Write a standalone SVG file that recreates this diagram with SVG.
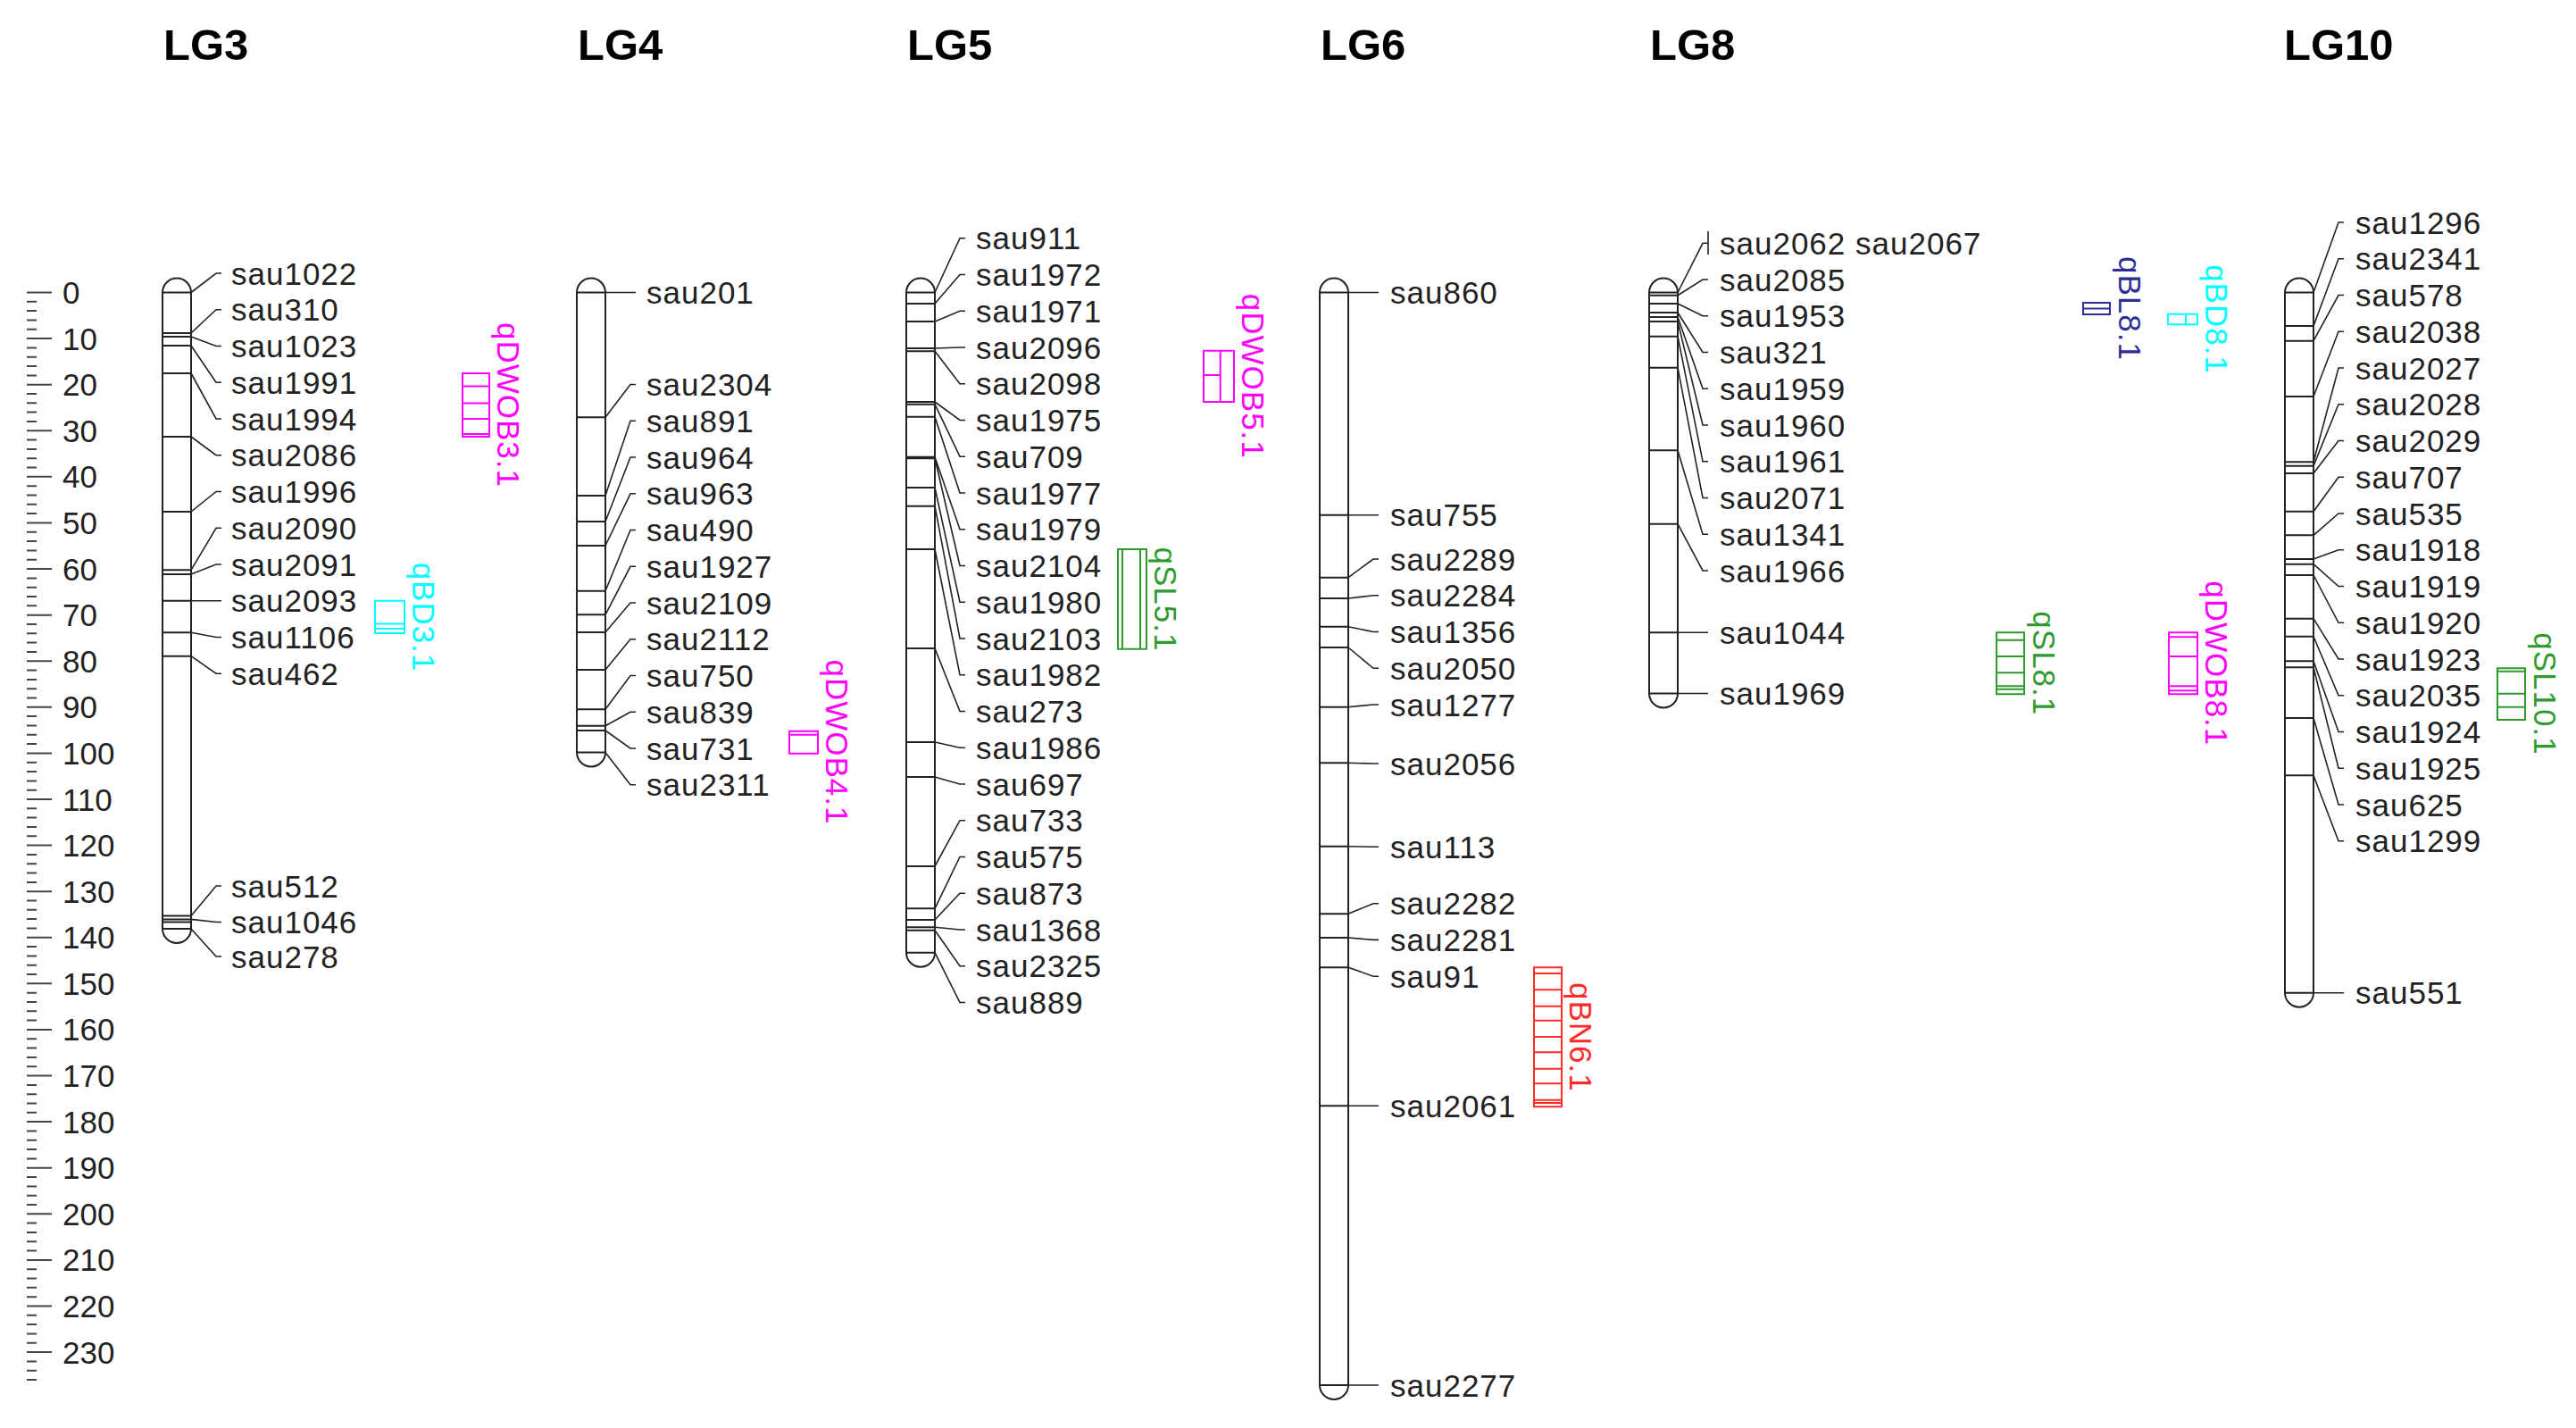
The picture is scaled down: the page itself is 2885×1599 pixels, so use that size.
<svg xmlns="http://www.w3.org/2000/svg" width="2885" height="1599" viewBox="0 0 2885 1599">
<style>
.bg{fill:#fff}
.chr{fill:none;stroke:#222;stroke-width:2}
.mk{fill:none;stroke:#222;stroke-width:2}
.cn{fill:none;stroke:#222;stroke-width:1.6}
.lb{font-family:"Liberation Sans",Arial,sans-serif;font-size:35px;letter-spacing:1px;fill:#222}
.tt{font-family:"Liberation Sans",Arial,sans-serif;font-size:49px;font-weight:bold;fill:#000}
.tk{fill:none;stroke:#444;stroke-width:2}
.rl{font-family:"Liberation Sans",Arial,sans-serif;font-size:35px;fill:#222}
.qm{fill:none;stroke:#FF00FF;stroke-width:2}.tm{fill:#FF00FF}
.qc{fill:none;stroke:#00FFFF;stroke-width:2}.tc{fill:#00FFFF}
.qg{fill:none;stroke:#2F9B2F;stroke-width:2}.tg{fill:#2F9B2F}
.qr{fill:none;stroke:#FF2A2A;stroke-width:2}.tr{fill:#FF2A2A}
.qb{fill:none;stroke:#2E2E96;stroke-width:2}.tb{fill:#2E2E96}
.ql{font-family:"Liberation Sans",Arial,sans-serif;font-size:35px;letter-spacing:1px;text-anchor:middle}
</style>
<rect class="bg" x="0" y="0" width="2885" height="1599"/>

<g id="ruler">
<path class="tk" d="M30 337.8H41M30 348.1H41M30 358.5H41M30 368.8H41M30 389.4H41M30 399.7H41M30 410H41M30 420.4H41M30 441H41M30 451.3H41M30 461.6H41M30 472H41M30 492.6H41M30 502.9H41M30 513.2H41M30 523.5H41M30 544.2H41M30 554.5H41M30 564.8H41M30 575.1H41M30 595.8H41M30 606.1H41M30 616.4H41M30 626.7H41M30 647.4H41M30 657.7H41M30 668H41M30 678.3H41M30 699H41M30 709.3H41M30 719.6H41M30 729.9H41M30 750.5H41M30 760.9H41M30 771.2H41M30 781.5H41M30 802.1H41M30 812.5H41M30 822.8H41M30 833.1H41M30 853.7H41M30 864H41M30 874.4H41M30 884.7H41M30 905.3H41M30 915.6H41M30 925.9H41M30 936.3H41M30 956.9H41M30 967.2H41M30 977.5H41M30 987.9H41M30 1008.5H41M30 1018.8H41M30 1029.1H41M30 1039.4H41M30 1060.1H41M30 1070.4H41M30 1080.7H41M30 1091H41M30 1111.7H41M30 1122H41M30 1132.3H41M30 1142.6H41M30 1163.3H41M30 1173.6H41M30 1183.9H41M30 1194.2H41M30 1214.9H41M30 1225.2H41M30 1235.5H41M30 1245.8H41M30 1266.4H41M30 1276.8H41M30 1287.1H41M30 1297.4H41M30 1318H41M30 1328.4H41M30 1338.7H41M30 1349H41M30 1369.6H41M30 1379.9H41M30 1390.3H41M30 1400.6H41M30 1421.2H41M30 1431.5H41M30 1441.8H41M30 1452.2H41M30 1472.8H41M30 1483.1H41M30 1493.4H41M30 1503.8H41M30 1524.4H41M30 1534.7H41M30 1545H41"/>
<path class="tk" d="M30 327.5H58M30 379.09H58M30 430.68H58M30 482.27H58M30 533.86H58M30 585.45H58M30 637.04H58M30 688.63H58M30 740.22H58M30 791.81H58M30 843.4H58M30 894.99H58M30 946.58H58M30 998.17H58M30 1049.76H58M30 1101.35H58M30 1152.94H58M30 1204.53H58M30 1256.12H58M30 1307.71H58M30 1359.3H58M30 1410.89H58M30 1462.48H58M30 1514.07H58"/>
<g class="rl">
<text x="70" y="340">0</text><text x="70" y="391.6">10</text><text x="70" y="443.2">20</text><text x="70" y="494.8">30</text><text x="70" y="546.4">40</text><text x="70" y="598">50</text><text x="70" y="649.5">60</text><text x="70" y="701.1">70</text><text x="70" y="752.7">80</text><text x="70" y="804.3">90</text><text x="70" y="855.9">100</text><text x="70" y="907.5">110</text><text x="70" y="959.1">120</text><text x="70" y="1010.7">130</text><text x="70" y="1062.3">140</text><text x="70" y="1113.9">150</text><text x="70" y="1165.4">160</text><text x="70" y="1217">170</text><text x="70" y="1268.6">180</text><text x="70" y="1320.2">190</text><text x="70" y="1371.8">200</text><text x="70" y="1423.4">210</text><text x="70" y="1475">220</text><text x="70" y="1526.6">230</text>
</g>
</g>

<g id="LG3">
<text class="tt" x="183" y="67">LG3</text>
<path class="chr" d="M182 327.5A16 16 0 0 1 214 327.5V1040A16 16 0 0 1 182 1040ZM182 327.5H214M182 1040H214"/>
<path class="mk" d="M182 373H214M182 377H214M182 387H214M182 418H214M182 489H214M182 573H214M182 638.3H214M182 642.9H214M182 672.7H214M182 708.3H214M182 734.7H214M182 1025.6H214M182 1029.4H214M182 1032.5H214"/>
<g class="lb">
<text x="259" y="318.5">sau1022</text><text x="259" y="359.25">sau310</text><text x="259" y="400">sau1023</text><text x="259" y="440.75">sau1991</text><text x="259" y="481.5">sau1994</text><text x="259" y="522.25">sau2086</text><text x="259" y="563">sau1996</text><text x="259" y="603.75">sau2090</text><text x="259" y="644.5">sau2091</text><text x="259" y="685.25">sau2093</text><text x="259" y="726">sau1106</text><text x="259" y="766.75">sau462</text><text x="259" y="1004.5">sau512</text><text x="259" y="1045">sau1046</text><text x="259" y="1083.5">sau278</text>
</g>
</g>

<g id="LG4">
<text class="tt" x="647" y="67">LG4</text>
<path class="chr" d="M646 327.5A16 16 0 0 1 678 327.5V842.5A16 16 0 0 1 646 842.5ZM646 327.5H678M646 842.5H678"/>
<path class="mk" d="M646 467.3H678M646 555H678M646 584H678M646 611H678M646 661.8H678M646 688.3H678M646 708H678M646 750H678M646 794.3H678M646 812.8H678M646 818H678"/>
<g class="lb">
<text x="724" y="340">sau201</text><text x="724" y="443">sau2304</text><text x="724" y="483.8">sau891</text><text x="724" y="524.5">sau964</text><text x="724" y="565.3">sau963</text><text x="724" y="606">sau490</text><text x="724" y="646.8">sau1927</text><text x="724" y="687.5">sau2109</text><text x="724" y="728.3">sau2112</text><text x="724" y="769">sau750</text><text x="724" y="809.8">sau839</text><text x="724" y="850.5">sau731</text><text x="724" y="891.3">sau2311</text>
</g>
</g>

<g id="LG5">
<text class="tt" x="1016" y="67">LG5</text>
<path class="chr" d="M1015 327.5A16 16 0 0 1 1047 327.5V1066.7A16 16 0 0 1 1015 1066.7ZM1015 327.5H1047M1015 1066.7H1047"/>
<path class="mk" d="M1015 340H1047M1015 360H1047M1015 390H1047M1015 393.3H1047M1015 450H1047M1015 452.7H1047M1015 466.7H1047M1015 511.7H1047M1015 513.3H1047M1015 546H1047M1015 566.7H1047M1015 615H1047M1015 726H1047M1015 831H1047M1015 870H1047M1015 970H1047M1015 1017.3H1047M1015 1030H1047M1015 1038.3H1047M1015 1041.7H1047"/>
<g class="lb">
<text x="1093" y="279.2">sau911</text><text x="1093" y="320">sau1972</text><text x="1093" y="360.7">sau1971</text><text x="1093" y="401.5">sau2096</text><text x="1093" y="442.2">sau2098</text><text x="1093" y="483">sau1975</text><text x="1093" y="523.7">sau709</text><text x="1093" y="564.5">sau1977</text><text x="1093" y="605.2">sau1979</text><text x="1093" y="646">sau2104</text><text x="1093" y="686.7">sau1980</text><text x="1093" y="727.5">sau2103</text><text x="1093" y="768.2">sau1982</text><text x="1093" y="809">sau273</text><text x="1093" y="849.7">sau1986</text><text x="1093" y="890.5">sau697</text><text x="1093" y="931.2">sau733</text><text x="1093" y="972">sau575</text><text x="1093" y="1012.7">sau873</text><text x="1093" y="1053.5">sau1368</text><text x="1093" y="1094.2">sau2325</text><text x="1093" y="1135">sau889</text>
</g>
</g>

<g id="LG6">
<text class="tt" x="1479" y="67">LG6</text>
<path class="chr" d="M1478 327.5A16 16 0 0 1 1510 327.5V1551A16 16 0 0 1 1478 1551ZM1478 327.5H1510M1478 1551H1510"/>
<path class="mk" d="M1478 576.7H1510M1478 646.7H1510M1478 670H1510M1478 701.7H1510M1478 725H1510M1478 791.7H1510M1478 854.3H1510M1478 947.7H1510M1478 1023.3H1510M1478 1050H1510M1478 1083.3H1510M1478 1238.3H1510"/>
<g class="lb">
<text x="1557" y="340">sau860</text><text x="1557" y="589.2">sau755</text><text x="1557" y="638.5">sau2289</text><text x="1557" y="679.2">sau2284</text><text x="1557" y="720">sau1356</text><text x="1557" y="760.8">sau2050</text><text x="1557" y="801.5">sau1277</text><text x="1557" y="867.5">sau2056</text><text x="1557" y="960.8">sau113</text><text x="1557" y="1024.2">sau2282</text><text x="1557" y="1064.9">sau2281</text><text x="1557" y="1105.7">sau91</text><text x="1557" y="1250.8">sau2061</text><text x="1557" y="1563.5">sau2277</text>
</g>
</g>

<g id="LG8">
<text class="tt" x="1848" y="67">LG8</text>
<path class="chr" d="M1847 327.5A16 16 0 0 1 1879 327.5V776.5A16 16 0 0 1 1847 776.5ZM1847 327.5H1879M1847 776.5H1879"/>
<path class="mk" d="M1847 330.7H1879M1847 340H1879M1847 350H1879M1847 355H1879M1847 360H1879M1847 376.7H1879M1847 411.7H1879M1847 504.3H1879M1847 586.7H1879M1847 708.3H1879"/>
<g class="lb">
<text x="1926" y="284.8">sau2062 sau2067</text><text x="1926" y="325.5">sau2085</text><text x="1926" y="366.3">sau1953</text><text x="1926" y="407">sau321</text><text x="1926" y="447.8">sau1959</text><text x="1926" y="488.5">sau1960</text><text x="1926" y="529.3">sau1961</text><text x="1926" y="570">sau2071</text><text x="1926" y="610.8">sau1341</text><text x="1926" y="651.5">sau1966</text><text x="1926" y="720.8">sau1044</text><text x="1926" y="789">sau1969</text>
</g>
</g>

<g id="LG10">
<text class="tt" x="2558" y="67">LG10</text>
<path class="chr" d="M2559 327.5A16 16 0 0 1 2591 327.5V1111.7A16 16 0 0 1 2559 1111.7ZM2559 327.5H2591M2559 1111.7H2591"/>
<path class="mk" d="M2559 365H2591M2559 381.7H2591M2559 444H2591M2559 517.3H2591M2559 521.7H2591M2559 530H2591M2559 572.7H2591M2559 599.3H2591M2559 626H2591M2559 631.7H2591M2559 644H2591M2559 692.7H2591M2559 712.7H2591M2559 740.3H2591M2559 747.3H2591M2559 804H2591M2559 868.3H2591"/>
<g class="lb">
<text x="2638" y="261.5">sau1296</text><text x="2638" y="302.25">sau2341</text><text x="2638" y="343">sau578</text><text x="2638" y="383.75">sau2038</text><text x="2638" y="424.5">sau2027</text><text x="2638" y="465.25">sau2028</text><text x="2638" y="506">sau2029</text><text x="2638" y="546.75">sau707</text><text x="2638" y="587.5">sau535</text><text x="2638" y="628.25">sau1918</text><text x="2638" y="669">sau1919</text><text x="2638" y="709.75">sau1920</text><text x="2638" y="750.5">sau1923</text><text x="2638" y="791.25">sau2035</text><text x="2638" y="832">sau1924</text><text x="2638" y="872.75">sau1925</text><text x="2638" y="913.5">sau625</text><text x="2638" y="954.25">sau1299</text><text x="2638" y="1124.2">sau551</text>
</g>
</g>

<g id="connectors" class="cn">
<path d="M214 327.5L242 306H248M214 373L242 346.75H248M214 377L242 387.5H248M214 387L242 428.25H248M214 418L242 469H248M214 489L242 509.75H248M214 573L242 550.5H248M214 638.3L242 591.25H248M214 642.9L242 632H248M214 672.7L242 672.75H248M214 708.3L242 713.5H248M214 734.7L242 754.25H248M214 1025.6L242 992H248M214 1029.4L242 1032.5H248M214 1040L242 1071H248"/>
<path d="M678 327.5L706 327.5H712M678 467.3L706 430.5H712M678 555L706 471.3H712M678 584L706 512H712M678 611L706 552.8H712M678 661.8L706 593.5H712M678 688.3L706 634.3H712M678 708L706 675H712M678 750L706 715.8H712M678 794.3L706 756.5H712M678 812.8L706 797.3H712M678 818L706 838H712M678 842.5L706 878.8H712"/>
<path d="M1047 327.5L1075 266.7H1081M1047 340L1075 307.5H1081M1047 360L1075 348.2H1081M1047 390L1075 389H1081M1047 393.3L1075 429.7H1081M1047 450L1075 470.5H1081M1047 452.7L1075 511.2H1081M1047 466.7L1075 552H1081M1047 511.7L1075 592.7H1081M1047 513.3L1075 633.5H1081M1047 546L1075 674.2H1081M1047 566.7L1075 715H1081M1047 615L1075 755.7H1081M1047 726L1075 796.5H1081M1047 831L1075 837.2H1081M1047 870L1075 878H1081M1047 970L1075 918.7H1081M1047 1017.3L1075 959.5H1081M1047 1030L1075 1000.2H1081M1047 1038.3L1075 1041H1081M1047 1041.7L1075 1081.7H1081M1047 1066.7L1075 1122.5H1081"/>
<path d="M1510 327.5L1538 327.5H1544M1510 576.7L1538 576.7H1544M1510 646.7L1538 626H1544M1510 670L1538 666.7H1544M1510 701.7L1538 707.5H1544M1510 725L1538 748.3H1544M1510 791.7L1538 789H1544M1510 854.3L1538 855H1544M1510 947.7L1538 948.3H1544M1510 1023.3L1538 1011.7H1544M1510 1050L1538 1052.4H1544M1510 1083.3L1538 1093.2H1544M1510 1238.3L1538 1238.3H1544M1510 1551L1538 1551H1544"/>
<path d="M1879 327.5L1907 272.3H1913M1913 259V285M1879 330.7L1907 313H1913M1879 340L1907 353.8H1913M1879 350L1907 394.5H1913M1879 355L1907 435.3H1913M1879 360L1907 476H1913M1879 376.7L1907 516.8H1913M1879 411.7L1907 557.5H1913M1879 504.3L1907 598.3H1913M1879 586.7L1907 639H1913M1879 708.3L1907 708.3H1913M1879 776.5L1907 776.5H1913"/>
<path d="M2591 327.5L2619 249H2625M2591 365L2619 289.75H2625M2591 381.7L2619 330.5H2625M2591 444L2619 371.25H2625M2591 517.3L2619 412H2625M2591 521.7L2619 452.75H2625M2591 530L2619 493.5H2625M2591 572.7L2619 534.25H2625M2591 599.3L2619 575H2625M2591 626L2619 615.75H2625M2591 631.7L2619 656.5H2625M2591 644L2619 697.25H2625M2591 692.7L2619 738H2625M2591 712.7L2619 778.75H2625M2591 740.3L2619 819.5H2625M2591 747.3L2619 860.25H2625M2591 804L2619 901H2625M2591 868.3L2619 941.75H2625M2591 1111.7L2619 1111.7H2625"/>
</g>

<g id="qDWOB3.1">
<path class="qm" d="M518 418H548V489H518ZM518 432.5H548M518 451.6H548M518 469H548M518 486H548"/>
<text class="ql tm" transform="translate(557 453.5) rotate(90)">qDWOB3.1</text>
</g>
<g id="qBD3.1">
<path class="qc" d="M420 672.7H453V709H420ZM420 698.5H453M420 704H453"/>
<text class="ql tc" transform="translate(462 691) rotate(90)">qBD3.1</text>
</g>
<g id="qDWOB4.1">
<path class="qm" d="M884 818.8H916V843.7H884ZM884 822.7H916"/>
<text class="ql tm" transform="translate(925 831) rotate(90)">qDWOB4.1</text>
</g>
<g id="qSL5.1">
<path class="qg" d="M1252 615H1284V726.7H1252ZM1257 615V726.7M1277 615V726.7"/>
<text class="ql tg" transform="translate(1293 671) rotate(90)">qSL5.1</text>
</g>
<g id="qDWOB5.1">
<path class="qm" d="M1348 392.7H1382V450H1348ZM1366.7 392.7V450M1348 420H1366.7"/>
<text class="ql tm" transform="translate(1391 421.3) rotate(90)">qDWOB5.1</text>
</g>
<g id="qBN6.1">
<path class="qr" d="M1718 1083.3H1749V1239.3H1718ZM1718 1090H1749M1718 1108.3H1749M1718 1126.7H1749M1718 1142.7H1749M1718 1161H1749M1718 1178.3H1749M1718 1196.7H1749M1718 1213.3H1749M1718 1231.7H1749M1718 1235H1749"/>
<text class="ql tr" transform="translate(1758 1161.3) rotate(90)">qBN6.1</text>
</g>
<g id="qSL8.1">
<path class="qg" d="M2236 708.3H2267V777.3H2236ZM2236 716.7H2267M2236 735H2267M2236 753.3H2267M2236 768.3H2267M2236 771.7H2267"/>
<text class="ql tg" transform="translate(2277 742.8) rotate(90)">qSL8.1</text>
</g>
<g id="qBL8.1">
<path class="qb" d="M2333 339H2363V352H2333ZM2333 345.5H2363"/>
<text class="ql tb" transform="translate(2373 345.5) rotate(90)">qBL8.1</text>
</g>
<g id="qBD8.1">
<path class="qc" d="M2428 351.7H2461V363.3H2428ZM2448 351.7V363.3"/>
<text class="ql tc" transform="translate(2470 357.5) rotate(90)">qBD8.1</text>
</g>
<g id="qDWOB8.1">
<path class="qm" d="M2429 708.3H2461V777.3H2429ZM2429 713.3H2461M2429 735H2461M2429 768.3H2461M2429 773.3H2461"/>
<text class="ql tm" transform="translate(2470 742.8) rotate(90)">qDWOB8.1</text>
</g>
<g id="qSL10.1">
<path class="qg" d="M2797 748.3H2828V806H2797ZM2797 751.7H2828M2797 776.7H2828M2797 791.7H2828"/>
<text class="ql tg" transform="translate(2838 777) rotate(90)">qSL10.1</text>
</g>
</svg>
